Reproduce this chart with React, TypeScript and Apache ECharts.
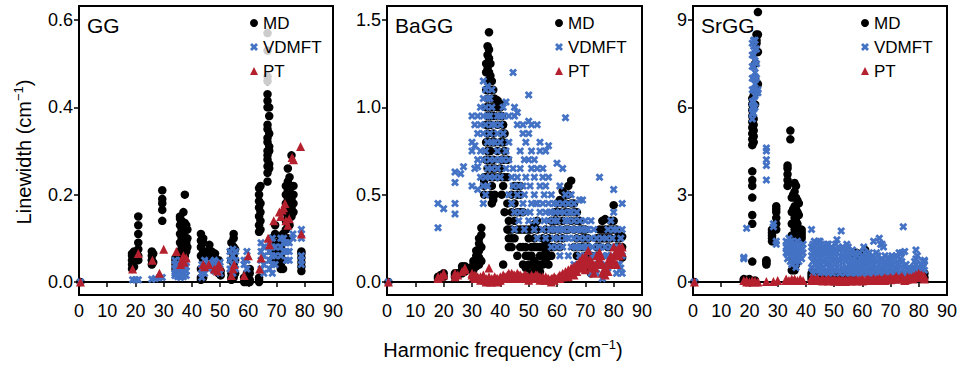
import React, { useEffect, useRef } from "react";
import * as echarts from "echarts";

type Cols = [number, number[]][];

// ---------- GG ----------
const ggMD: Cols = [
  [0.5, [0]],
  [18.8, [0.03, 0.04, 0.05, 0.06, 0.065]],
  [19.5, [0.035, 0.055, 0.07]],
  [21, [0.15, 0.13, 0.11, 0.09, 0.075, 0.06, 0.05]],
  [25.8, [0.04, 0.05, 0.06, 0.07]],
  [26.3, [0.045, 0.065]],
  [29.5, [0.21, 0.19, 0.18, 0.165, 0.14]],
  [34.2, [0.03, 0.04, 0.05, 0.055]],
  [35, [0.035, 0.06]],
  [35.8, [0.05, 0.07, 0.09, 0.11, 0.13, 0.145, 0.15]],
  [36.4, [0.04, 0.06, 0.08, 0.1, 0.12, 0.14]],
  [37, [0.05, 0.07, 0.09, 0.11, 0.13, 0.16]],
  [37.5, [0.06, 0.08, 0.1, 0.12, 0.135, 0.2]],
  [38, [0.07, 0.09, 0.1, 0.12, 0.13]],
  [38.4, [0.08, 0.1, 0.12]],
  [43.2, [0.005, 0.01, 0.03, 0.06, 0.08, 0.095, 0.11]],
  [44, [0.01, 0.03, 0.05, 0.07, 0.09, 0.1]],
  [45, [0.04, 0.06, 0.07]],
  [46.2, [0.05, 0.07, 0.085]],
  [47, [0.04, 0.06, 0.07]],
  [48.2, [0.03, 0.05, 0.065]],
  [49.5, [0.02, 0.03, 0.05]],
  [50.2, [0.015, 0.025]],
  [54, [0.005, 0.01, 0.02, 0.05, 0.07, 0.09]],
  [54.8, [0.01, 0.04, 0.06, 0.08, 0.1, 0.11]],
  [55.3, [0.02, 0.05, 0.075]],
  [58.5, [0.0, 0.01]],
  [59.5, [0.0, 0.01, 0.02]],
  [60.5, [0.0, 0.005, 0.02, 0.03]],
  [63.8, [0.0, 0.005, 0.01, 0.115, 0.13, 0.15, 0.17, 0.185, 0.2, 0.215]],
  [64.3, [0.12, 0.14, 0.16, 0.18, 0.22]],
  [66.8, [0.57, 0.53, 0.47, 0.46, 0.43, 0.415, 0.4, 0.36, 0.35, 0.33, 0.32, 0.3, 0.29, 0.28, 0.265, 0.25, 0.23]],
  [67.4, [0.4, 0.38, 0.34, 0.31, 0.3, 0.27, 0.26]],
  [68.2, [0.05, 0.07, 0.09, 0.1]],
  [69.5, [0.06, 0.08, 0.11, 0.13]],
  [70.5, [0.05, 0.07, 0.09]],
  [71.5, [0.03, 0.04, 0.05, 0.06, 0.08, 0.1]],
  [72.3, [0.03, 0.05, 0.07, 0.09, 0.11]],
  [73.3, [0.12, 0.14, 0.16, 0.18, 0.2, 0.22]],
  [74, [0.1, 0.13, 0.15, 0.17, 0.19, 0.21, 0.23, 0.26]],
  [74.6, [0.13, 0.15, 0.17, 0.19, 0.21, 0.24]],
  [75.3, [0.15, 0.17, 0.19, 0.2, 0.22, 0.29]],
  [76, [0.16, 0.18, 0.2, 0.22]],
  [78.8, [0.025, 0.035, 0.045, 0.055, 0.065, 0.07]],
];
const ggVD: Cols = [
  [0.5, [0]],
  [19, [0.005]], [20, [0.005]], [21, [0.005]],
  [25.8, [0.006]], [27, [0.008]], [28.5, [0.01]], [29.5, [0.01]],
  [34, [0.015, 0.02, 0.03, 0.04, 0.05]],
  [35, [0.012, 0.02, 0.03, 0.04]],
  [36, [0.01, 0.015, 0.02, 0.03, 0.04, 0.05]],
  [37, [0.012, 0.02, 0.03, 0.04, 0.045]],
  [38, [0.015, 0.025, 0.035, 0.045]],
  [43.5, [0.01, 0.02, 0.03, 0.04]],
  [44.5, [0.02, 0.035, 0.05]],
  [46, [0.03, 0.045]],
  [48, [0.025, 0.04, 0.05]],
  [50, [0.02, 0.03, 0.045]],
  [53.5, [0.03, 0.05, 0.07]],
  [54.5, [0.02, 0.04, 0.06, 0.075]],
  [55.5, [0.03, 0.05, 0.07]],
  [58.5, [0.04, 0.05]],
  [59.5, [0.03, 0.05, 0.07]],
  [64.5, [0.03, 0.05, 0.07, 0.09]],
  [65.5, [0.02, 0.04, 0.06, 0.08]],
  [67.5, [0.03, 0.05, 0.07, 0.09]],
  [68.5, [0.02, 0.04, 0.06, 0.08, 0.1]],
  [69.5, [0.04, 0.06, 0.08]],
  [71.5, [0.06, 0.08, 0.1]],
  [72.5, [0.07, 0.09, 0.1]],
  [73.5, [0.05, 0.07, 0.09]],
  [74.5, [0.05, 0.07, 0.09]],
  [75.8, [0.1, 0.11]],
  [78.8, [0.04, 0.05, 0.06, 0.1, 0.11, 0.12]],
];
const ggPT: Cols = [
  [0.5, [0]], [19, [0.03]], [21, [0.065]], [26, [0.05]], [28.5, [0.02]], [30, [0.075]],
  [34.5, [0.07]], [36, [0.04]], [36.5, [0.05]], [37, [0.06]], [37.3, [0.045]], [38, [0.055]],
  [44, [0.04]], [44.5, [0.035]], [46, [0.04]], [48, [0.03]], [49, [0.025]], [49.5, [0.04]], [50, [0.035]],
  [54, [0.015]], [54.5, [0.03]], [55, [0.04]], [58.5, [0.015]], [60, [0.06]], [64, [0.03]], [64.5, [0.055]],
  [67, [0.1]], [67.5, [0.085]], [69, [0.14]], [71, [0.16]], [71.5, [0.15]], [72, [0.165]], [72.5, [0.17]],
  [73, [0.18]], [73.3, [0.14]], [74, [0.13]], [74.5, [0.145]], [75.5, [0.285]], [76, [0.28]],
  [78.5, [0.31]], [78.8, [0.11]],
];

// ---------- BaGG ----------
const baMD: Cols = [
  [0.5, [0]],
  [18, [0.02, 0.03]], [19, [0.03, 0.04]], [20, [0.03, 0.05]],
  [24, [0.03, 0.04, 0.05]], [25, [0.04, 0.05]],
  [26.5, [0.05, 0.07, 0.09]], [27.5, [0.06, 0.08, 0.09]], [28.5, [0.07, 0.08]],
  [30.5, [0.07, 0.1, 0.12]], [31.5, [0.09, 0.12, 0.15, 0.18]], [32.5, [0.1, 0.14, 0.18, 0.22, 0.25]],
  [33.3, [0.12, 0.2, 0.27, 0.31]],
  [34.3, [0.5, 0.55, 0.58, 0.6]],
  [35, [0.6, 0.7, 0.8, 0.9, 1.0, 1.1, 1.2, 1.25]],
  [35.5, [0.65, 0.75, 0.85, 0.95, 1.05, 1.15, 1.22, 1.3, 1.35]],
  [36, [0.7, 0.8, 0.9, 1.0, 1.1, 1.2, 1.28, 1.33, 1.43]],
  [36.5, [0.5, 0.6, 0.75, 0.9, 1.0, 1.1, 1.18, 1.25]],
  [37, [0.45, 0.55, 0.65, 0.8, 0.95, 1.05, 1.15]],
  [37.5, [0.47, 0.6, 0.7, 0.85, 1.0, 1.1]],
  [38, [0.5, 0.65, 0.8, 0.95, 1.05]],
  [39, [0.6, 0.75, 0.9, 1.0, 1.04]],
  [40, [0.65, 0.8, 0.95, 1.0, 1.02]],
  [40.5, [0.5, 0.6, 0.7, 0.85, 0.95]],
  [41, [0.1, 0.55, 0.7, 0.8, 0.9]],
  [41.5, [0.4, 0.6, 0.75, 0.85]],
  [42.5, [0.3, 0.45, 0.6, 0.7]],
  [43, [0.2, 0.25, 0.3, 0.35]],
  [44, [0.2, 0.25, 0.3, 0.4, 0.5]],
  [45, [0.25, 0.35, 0.45, 0.55]],
  [46, [0.15, 0.3, 0.4, 0.5, 0.55]],
  [47, [0.2, 0.3, 0.4, 0.5, 0.55]],
  [48, [0.1, 0.2, 0.3, 0.4]],
  [49, [0.08, 0.15, 0.2, 0.3]],
  [50, [0.02, 0.1, 0.15, 0.25, 0.3]],
  [51, [0.05, 0.1, 0.15, 0.2, 0.3]],
  [52, [0.08, 0.12, 0.2, 0.25, 0.33]],
  [53, [0.05, 0.1, 0.2, 0.3, 0.35]],
  [54, [0.06, 0.1, 0.15, 0.2]],
  [55, [0.1, 0.15, 0.2, 0.25]],
  [56, [0.12, 0.18, 0.22, 0.3]],
  [57, [0.1, 0.15, 0.2, 0.25]],
  [58, [0.15, 0.2, 0.3, 0.35]],
  [59, [0.2, 0.3, 0.35, 0.4]],
  [60, [0.25, 0.35, 0.4, 0.45]],
  [61, [0.2, 0.3, 0.4, 0.47]],
  [62, [0.25, 0.35, 0.45, 0.52]],
  [63, [0.3, 0.4, 0.45, 0.5]],
  [64, [0.3, 0.4, 0.5, 0.55]],
  [65, [0.35, 0.45, 0.58]],
  [66, [0.2, 0.3, 0.4, 0.45]],
  [67, [0.15, 0.25, 0.35, 0.4]],
  [68, [0.1, 0.2, 0.3, 0.35]],
  [69, [0.1, 0.2, 0.25, 0.3]],
  [70, [0.08, 0.15, 0.25, 0.3]],
  [71, [0.1, 0.2, 0.25]],
  [72, [0.05, 0.1, 0.15]],
  [74, [0.15, 0.2, 0.25]],
  [75, [0.2, 0.25, 0.3]],
  [76, [0.25, 0.3, 0.35]],
  [77, [0.25, 0.3, 0.36]],
  [78, [0.2, 0.25, 0.3]],
  [79, [0.25, 0.3, 0.35]],
  [80, [0.3, 0.35, 0.44]],
  [81, [0.2, 0.25, 0.3]],
  [82, [0.2, 0.25, 0.27]],
  [83, [0.14, 0.2, 0.26]],
];
const baVD: Cols = [
  [0.5, [0]],
  [18, [0.31, 0.45]], [20, [0.42]], [24, [0.39, 0.45, 0.57, 0.63]], [26, [0.62]], [27, [0.66]],
  [30, [0.55, 0.75, 0.8, 0.95]], [31, [0.65, 0.78, 0.9]], [32, [0.53, 0.66, 0.7, 0.85, 0.95]],
  [33, [0.6, 0.75, 0.9, 1.0]],
  [34, [0.45, 0.55, 0.7, 0.85, 0.95, 1.05, 1.15]], [34.8, [0.5, 0.6, 0.75, 0.9, 1.0, 1.1]],
  [35.5, [0.55, 0.65, 0.8, 0.95, 1.05, 1.12]], [36.3, [0.6, 0.7, 0.85, 0.95, 1.05]],
  [37, [0.65, 0.8, 0.9, 1.0, 1.1]], [38, [0.6, 0.7, 0.8, 0.9]], [39, [0.65, 0.75, 0.85, 0.95]],
  [40, [0.6, 0.7, 0.8, 0.9, 0.95]], [41, [0.7, 0.85, 0.95, 1.0]], [42, [1.03, 0.75, 0.65]],
  [43, [0.5, 0.7, 0.8, 0.95]], [44.5, [1.2, 0.55, 0.65]], [45, [0.95, 1.0, 0.4, 0.3]],
  [46, [0.9, 0.97, 0.6, 0.5]], [47, [0.75, 0.65, 0.4]], [48, [0.85, 0.9, 0.55, 0.45]],
  [49, [0.8, 0.6, 0.4]], [50, [1.07, 0.92, 0.85, 0.7, 0.35]], [51, [0.9, 0.75, 0.65, 0.45]],
  [52, [0.7, 0.6, 0.5, 0.3]], [53, [0.9, 0.65, 0.45, 0.25]], [54, [0.8, 0.75, 0.55, 0.4]],
  [55, [0.65, 0.6, 0.45, 0.3]], [56, [0.75, 0.55, 0.4, 0.25]], [57, [0.78, 0.6, 0.45, 0.35]],
  [58, [0.5, 0.4, 0.3, 0.2]], [59, [0.45, 0.35, 0.25]], [60, [0.68, 0.45, 0.35, 0.2]],
  [61, [0.55, 0.4, 0.3, 0.15]], [62, [0.65, 0.45, 0.3, 0.2]], [63, [0.94, 0.5, 0.35, 0.25]],
  [64, [0.45, 0.35, 0.25, 0.15]], [65, [0.5, 0.4, 0.3, 0.2]], [66, [0.45, 0.35, 0.25, 0.1]],
  [67, [0.4, 0.3, 0.2]], [68, [0.47, 0.35, 0.25, 0.15]], [69, [0.47, 0.3, 0.2, 0.1]],
  [70, [0.35, 0.25, 0.15]], [71, [0.3, 0.2, 0.1]], [72, [0.35, 0.25, 0.05]], [73, [0.3, 0.15, 0.1]],
  [74, [0.25, 0.15, 0.05]], [75, [0.6, 0.2, 0.1]], [76, [0.02, 0.15, 0.25]], [77, [0.2, 0.1]],
  [78, [0.3, 0.15, 0.08]], [79, [0.35, 0.2, 0.1]], [80, [0.53, 0.4, 0.3]], [81, [0.3, 0.15, 0.05]],
  [82, [0.2, 0.1]], [83, [0.45, 0.3, 0.15, 0.05]],
  [44, [0.45, 0.6]], [46.5, [0.35, 0.55]], [48.5, [0.3, 0.5, 0.7]], [50.5, [0.4, 0.55]],
  [52.5, [0.35, 0.45]], [55.5, [0.35, 0.5]], [57.5, [0.3, 0.4]], [59.5, [0.3, 0.4]],
  [60.5, [0.25, 0.3]], [62.5, [0.3, 0.4]], [64.5, [0.3, 0.4]], [66.5, [0.2, 0.3]],
  [68.5, [0.2, 0.3]], [70.5, [0.2, 0.3]], [72.5, [0.15, 0.2]], [74.5, [0.1, 0.2]],
  [77.5, [0.15, 0.25]], [79.5, [0.15, 0.25]], [81.5, [0.1, 0.2]], [82.5, [0.08, 0.25]],
];
const baPT: Cols = [
  [0.5, [0]],
  [18, [0.02, 0.03]], [19, [0.03]], [20, [0.04, 0.05]], [24, [0.03, 0.05]], [25, [0.04]],
  [26.5, [0.06]], [27.5, [0.07, 0.08]], [30, [0.04, 0.05]], [31, [0.02, 0.04]], [32, [0.03]],
  [33, [0.01, 0.03]], [34, [0.02, 0.04]], [35, [0.0, 0.02]], [36, [0.08, 0.01, 0.03]], [37, [0.0, 0.02]],
  [38, [0.01, 0.03]], [39, [0.0, 0.02]], [40, [0.01, 0.03]], [41, [0.02, 0.04]], [42, [0.03]],
  [43, [0.02, 0.05]], [44, [0.03, 0.05]], [45, [0.02, 0.04]], [46, [0.03, 0.05]], [47, [0.02, 0.04]],
  [48, [0.03]], [49, [0.02, 0.04]], [50, [0.01, 0.03]], [51, [0.02, 0.04]], [52, [0.03]],
  [53, [0.02, 0.04]], [54, [0.01, 0.03]], [55, [0.02, 0.03]], [56, [0.01, 0.03]], [57, [0.02]],
  [58, [0.0, 0.02]], [59, [0.01, 0.03]], [60, [0.02]], [61, [0.02, 0.04]], [62, [0.03, 0.05]],
  [63, [0.04, 0.06]], [64, [0.03, 0.07]], [65, [0.05, 0.08]], [66, [0.04, 0.09]], [67, [0.06, 0.1]],
  [68, [0.08, 0.12]], [69, [0.09, 0.14]], [70, [0.07, 0.12, 0.15]], [71, [0.1, 0.18]], [72, [0.08, 0.12]],
  [73, [0.05, 0.1]], [74, [0.1, 0.15]], [75, [0.13, 0.17]], [76, [0.05, 0.1]], [77, [0.04, 0.08]],
  [78, [0.06, 0.12]], [79, [0.1, 0.15]], [80, [0.12, 0.2]], [81, [0.1, 0.18]], [82, [0.15, 0.2]],
  [83, [0.17, 0.2]],
  [30.5, [0.03]], [31.5, [0.03]], [32.5, [0.02]], [33.5, [0.02]], [34.5, [0.01]], [35.5, [0.01]],
  [36.5, [0.0]], [37.5, [0.01]], [38.5, [0.02]], [39.5, [0.01]], [40.5, [0.02]], [41.5, [0.03]],
  [42.5, [0.04]], [43.5, [0.03]], [44.5, [0.04]], [45.5, [0.03]], [46.5, [0.04]], [47.5, [0.03]],
  [48.5, [0.04]], [49.5, [0.03]], [50.5, [0.02]], [51.5, [0.03]], [52.5, [0.04]], [53.5, [0.03]],
  [54.5, [0.02]], [55.5, [0.01]], [56.5, [0.02]], [57.5, [0.01]], [58.5, [0.02]], [59.5, [0.02]],
  [60.5, [0.03]], [61.5, [0.03]], [62.5, [0.04]], [63.5, [0.05]], [64.5, [0.05]], [65.5, [0.06]],
  [66.5, [0.07]], [67.5, [0.08]], [68.5, [0.1]], [69.5, [0.11]], [70.5, [0.1]], [71.5, [0.13]],
  [72.5, [0.1]], [73.5, [0.08]], [74.5, [0.12]], [75.5, [0.15]], [76.5, [0.07]], [77.5, [0.06]],
  [78.5, [0.1]], [79.5, [0.13]], [80.5, [0.16]], [81.5, [0.15]], [82.5, [0.18]],
];

// ---------- SrGG ----------
const srMD: Cols = [
  [0.5, [0]],
  [18, [0.05, 0.1]], [19, [0.08]], [20, [0.05, 0.1]],
  [21, [0.7, 2.0, 2.3, 2.9, 3.3, 3.5, 3.8, 4.7, 4.9, 5.1, 5.3, 5.5, 5.7, 5.9, 6.1, 6.3]],
  [21.5, [4.8, 5.0, 5.2, 5.4, 5.6, 6.0, 6.4]],
  [22, [0.05, 6.1, 6.6, 7.0, 7.5]],
  [22.5, [7.9, 8.3, 8.5, 8.2]],
  [23, [9.27, 8.5, 7.9, 6.8]],
  [26, [0.6, 0.65, 0.7, 0.75]],
  [28, [1.4, 1.5, 1.6, 1.7, 1.8]],
  [29.5, [1.8, 2.0, 2.2, 2.4, 2.5, 2.6]],
  [33.5, [3.3, 3.5, 3.7, 3.9, 4.0]],
  [34.5, [4.9, 5.2]],
  [35, [0.4, 0.8, 1.2, 1.6, 2.0, 2.4, 2.9]],
  [35.5, [0.5, 1.0, 1.5, 2.0, 2.5, 3.0]],
  [36, [0.4, 0.9, 1.3, 1.8, 2.2, 2.6, 3.1, 3.4]],
  [36.5, [0.6, 1.1, 1.6, 2.1, 2.5, 2.9, 3.3]],
  [37, [1.0, 1.5, 2.0, 2.4, 2.8]],
  [37.5, [1.3, 1.8, 2.3, 2.7]],
  [38.5, [1.5, 1.6, 1.7, 1.8]],
  [42, [0.1, 0.2, 0.3]], [44, [0.1, 0.2, 0.3]], [46, [0.15, 0.25]], [48, [0.1, 0.2, 0.3]],
  [50, [0.15, 0.25]], [52, [0.1, 0.2, 0.3]], [54, [0.15, 0.25]], [56, [0.1, 0.3]],
  [57, [0.3, 0.5, 0.7, 0.9]], [58, [0.4, 0.6, 0.8, 1.0]], [59, [0.3, 0.5, 0.7, 0.9]],
  [60, [0.4, 0.7, 1.0]], [61, [0.5, 0.8, 1.1]], [62, [0.3, 0.6, 0.9]], [64, [0.1, 0.2, 0.3]],
  [66, [0.15, 0.25]], [68, [0.1, 0.2, 0.3]], [70, [0.15, 0.25]], [72, [0.1, 0.2]],
  [74, [0.15, 0.25]], [76, [0.1, 0.2]], [78, [0.15, 0.25]], [80, [0.2]], [82, [0.3, 0.15]],
  [43, [0.15, 0.25]], [45, [0.1, 0.2]], [47, [0.15, 0.3]], [49, [0.1, 0.2]], [51, [0.15, 0.25]],
  [53, [0.1, 0.2]], [55, [0.15, 0.3]], [63, [0.2, 0.4, 0.6]], [65, [0.1, 0.2]], [67, [0.15, 0.25]],
  [69, [0.1, 0.2]], [71, [0.15, 0.25]], [73, [0.1, 0.2]], [75, [0.15]], [77, [0.1, 0.2]],
  [79, [0.15, 0.2]], [81, [0.2, 0.25]],
];
const srVD: Cols = [
  [0.5, [0]],
  [18, [0.8, 0.85]], [19, [1.85]],
  [21, [5.6, 5.8, 6.0, 6.2, 6.6, 7.0, 7.4, 7.8, 8.2]],
  [21.5, [5.8, 6.2, 6.6, 7.0, 7.4, 7.8, 8.1, 8.3]],
  [22, [6.0, 6.4, 6.8, 7.2, 7.6, 8.0, 8.3]],
  [22.5, [6.5, 7.0, 7.5, 8.0]],
  [23, [6.5, 6.6]],
  [26, [3.5, 4.0, 4.2, 4.5, 4.6]],
  [28.5, [2.0, 1.9]], [29.5, [1.3, 1.4]],
  [33, [1.0, 1.2, 1.4]], [34, [1.0, 1.3, 1.5]], [35, [0.6, 0.9, 1.2, 1.4]], [36, [0.7, 1.0, 1.3]],
  [37, [0.8, 1.1, 1.4]], [38, [0.9, 1.2]], [39, [1.0, 1.3]],
  [33.5, [0.8, 1.1, 1.3]], [34.5, [0.7, 1.1, 1.4]], [35.5, [0.8, 1.1, 1.3]], [36.5, [0.5, 0.9, 1.2]],
  [37.5, [0.7, 1.0, 1.3]], [38.5, [0.8, 1.1]],
  [42, [1.8, 0.5, 0.9, 1.2]], [43, [0.4, 0.8, 1.2, 1.4]], [44, [0.5, 0.9, 1.3]], [45, [0.3, 0.7, 1.1, 1.4]],
  [46, [0.5, 0.9, 1.2]], [47, [0.4, 0.8, 1.1]], [48, [0.3, 0.7, 1.0, 1.3]], [49, [0.5, 0.9, 1.2]],
  [50, [0.4, 0.8, 1.1]], [51, [0.5, 1.0, 1.45]], [52, [0.3, 0.7, 1.1]], [52.5, [1.75]],
  [53, [0.5, 0.9, 1.2]], [54, [0.3, 0.7, 1.0]], [55, [0.4, 0.8, 1.2]], [56, [0.3, 0.6, 1.0]],
  [57, [0.4, 0.7]], [58, [0.3, 0.6, 0.9]], [59, [0.3, 0.5, 1.0]], [60, [0.3, 0.6, 0.9]],
  [61, [0.4, 0.7, 1.0]], [62, [0.3, 0.6, 0.9]], [63, [0.2, 0.5, 0.8]], [64, [0.3, 0.6, 1.4]],
  [65, [0.4, 0.7, 1.0]], [66, [0.3, 0.6, 1.5]], [67, [0.4, 0.8, 1.3]], [68, [0.3, 0.6, 0.9]],
  [69, [0.3, 0.5, 0.8]], [70, [0.2, 0.5, 0.8]], [71, [0.3, 0.6]], [72, [0.2, 0.4, 0.9]],
  [73, [0.3, 0.6, 1.0]], [74, [0.3, 0.7, 1.0]], [74.5, [1.9]], [75, [0.2, 0.5, 1.05]],
  [76, [0.2, 0.4]], [78, [0.3, 0.5]], [79, [0.6, 0.8, 1.1]], [80, [0.3, 0.5]], [81, [0.3, 0.6]],
  [82, [0.7, 0.75, 0.4]],
  [42.5, [0.3, 0.7, 1.0, 1.3]], [43.5, [0.6, 1.0]], [44.5, [0.4, 0.8, 1.1, 1.4]], [45.5, [0.6, 1.0, 1.3]],
  [46.5, [0.3, 0.7, 1.1]], [47.5, [0.6, 1.0, 1.3]], [48.5, [0.5, 0.9]], [49.5, [0.3, 0.7, 1.1]],
  [50.5, [0.6, 1.0, 1.3]], [51.5, [0.4, 0.8, 1.2]], [53.5, [0.4, 0.8, 1.1]], [54.5, [0.5, 0.9, 1.3]],
  [55.5, [0.3, 0.6, 1.0]], [56.5, [0.5, 0.8, 1.1]], [57.5, [0.3, 0.6, 1.0]], [58.5, [0.4, 0.7]],
  [59.5, [0.3, 0.6, 0.8]], [60.5, [0.5, 0.8, 1.2]], [61.5, [0.3, 0.6, 0.9]], [62.5, [0.4, 0.7, 1.0]],
  [63.5, [0.3, 0.6, 0.9]], [64.5, [0.4, 0.8]], [65.5, [0.3, 0.5, 0.9]], [66.5, [0.4, 0.7, 1.3]],
  [67.5, [0.3, 0.6, 1.2]], [68.5, [0.4, 0.7]], [69.5, [0.2, 0.5, 0.8]], [70.5, [0.3, 0.6, 0.9]],
  [71.5, [0.2, 0.5, 0.8]], [72.5, [0.3, 0.6]], [73.5, [0.2, 0.5, 0.8]], [75.5, [0.3, 0.6]],
  [76.5, [0.2, 0.5]], [77.5, [0.3]], [78.5, [0.2, 0.4, 0.7]], [79.5, [0.3, 0.5, 0.9]], [80.5, [0.4]],
  [81.5, [0.5, 0.7]],
];
const srPT: Cols = [
  [0.5, [0]], [18, [0.05]], [19, [0.0, 0.05]], [20, [0.0]], [21, [0.02, 0.05]], [22, [0.0, 0.03]],
  [23, [0.0]], [26, [0.02]], [28.5, [0.02]], [30, [0.05]],
  [33, [0.05, 0.1]], [34, [0.05]], [35, [0.05, 0.1]], [36, [0.05, 0.1]], [37, [0.05]], [38, [0.05, 0.1]], [39, [0.05]],
  [42, [0.05, 0.15]], [43, [0.05, 0.1]], [44, [0.05, 0.12]], [45, [0.05]], [46, [0.03, 0.1]], [47, [0.05]],
  [48, [0.03, 0.1]], [49, [0.05]], [50, [0.03, 0.08]], [51, [0.05]], [52, [0.02, 0.08]], [53, [0.05]],
  [54, [0.02, 0.07]], [55, [0.05]], [56, [0.03, 0.08]], [57, [0.05]], [58, [0.03, 0.08]], [59, [0.05]],
  [60, [0.03, 0.1]], [61, [0.05]], [62, [0.05, 0.1]], [63, [0.05]], [64, [0.05, 0.12]], [65, [0.08]],
  [66, [0.05, 0.12]], [67, [0.08]], [68, [0.05, 0.15]], [69, [0.1]], [70, [0.08, 0.15]], [71, [0.1]],
  [72, [0.1, 0.2]], [73, [0.12]], [74, [0.1, 0.2]], [75, [0.05]], [76, [0.1, 0.18]], [77, [0.15]],
  [78, [0.1, 0.2]], [79, [0.15, 0.25]], [80, [0.2, 0.3]], [81, [0.15, 0.25]], [82, [0.1, 0.2]],
  [42.5, [0.08]], [43.5, [0.06]], [44.5, [0.08]], [45.5, [0.06]], [46.5, [0.05]], [47.5, [0.07]],
  [48.5, [0.05]], [49.5, [0.06]], [50.5, [0.04]], [51.5, [0.05]], [52.5, [0.04]], [53.5, [0.05]],
  [54.5, [0.04]], [55.5, [0.05]], [56.5, [0.04]], [57.5, [0.06]], [58.5, [0.05]], [59.5, [0.06]],
  [60.5, [0.05]], [61.5, [0.07]], [62.5, [0.06]], [63.5, [0.08]], [64.5, [0.07]], [65.5, [0.09]],
  [66.5, [0.08]], [67.5, [0.1]], [68.5, [0.09]], [69.5, [0.12]], [70.5, [0.1]], [71.5, [0.13]],
  [72.5, [0.12]], [73.5, [0.14]], [74.5, [0.12]], [75.5, [0.08]], [76.5, [0.13]], [77.5, [0.12]],
  [78.5, [0.15]], [79.5, [0.2]], [80.5, [0.22]], [81.5, [0.2]],
];

const panelNames = ["GG", "BaGG", "SrGG"];
const seriesNames = ["MD", "VDMFT", "PT"];
const xTicks = [0, 10, 20, 30, 40, 50, 60, 70, 80, 90];
const yTicks = [
  [0, 0.2, 0.4, 0.6],
  [0, 0.5, 1.0, 1.5],
  [0, 3, 6, 9],
];
const yDecimals = [1, 1, 0];
const yRanges = [
  [-0.0298, 0.632],
  [-0.0744, 1.58],
  [-0.447, 9.48],
];
const panelData = [
  [ggMD, ggVD, ggPT],
  [baMD, baVD, baPT],
  [srMD, srVD, srPT],
];

const FONT = "'Liberation Sans', Arial, sans-serif";
const BLUE = "#4472c4";
const RED = "#b5202e";
const XSYM = "path://M0,2.5L2.5,0L5,2.5L7.5,0L10,2.5L7.5,5L10,7.5L7.5,10L5,7.5L2.5,10L0,7.5L2.5,5Z";

function flatten(cols: Cols): number[][] {
  const out: number[][] = [];
  for (const [x, ys] of cols) for (const y of ys) out.push([x, y]);
  return out;
}

export default function App() {
  const ref = useRef<HTMLDivElement>(null);
  useEffect(() => {
    if (!ref.current) return;
    const chart = echarts.init(ref.current, null, { renderer: "svg" });
    const gridLefts = [79, 387, 693];
    const gridWidths = [254, 255, 254];
    const legendLefts = [244, 549, 855];
    const grids = gridLefts.map((l, i) => ({
      left: l,
      top: 6,
      width: gridWidths[i],
      height: 289,
      show: true,
      borderColor: "#000",
      borderWidth: 2,
      backgroundColor: "transparent",
    }));
    const xAxes = gridLefts.map((_, i) => ({
      type: "value",
      gridIndex: i,
      min: 0,
      max: 90,
      interval: 10,
      splitLine: { show: false },
      axisLine: { show: true, lineStyle: { color: "#000", width: 2 } },
      axisTick: { show: true, length: 5, lineStyle: { color: "#000", width: 1.5 }, customValues: xTicks },
      axisLabel: { color: "#000", fontSize: 18, fontFamily: FONT, margin: 7, customValues: xTicks },
    }));
    const yAxes = gridLefts.map((_, i) => ({
      type: "value",
      gridIndex: i,
      min: yRanges[i][0],
      max: yRanges[i][1],
      splitLine: { show: false },
      axisLine: { show: true, lineStyle: { color: "#000", width: 2 } },
      axisTick: { show: true, length: 5, lineStyle: { color: "#000", width: 1.5 }, customValues: yTicks[i] },
      axisLabel: {
        color: "#000",
        fontSize: 18,
        fontFamily: FONT,
        margin: 6,
        customValues: yTicks[i],
        formatter: (v: number) => v.toFixed(yDecimals[i]),
      },
    }));
    const series: any[] = [];
    panelData.forEach((sets, i) => {
      sets.forEach((cols, j) => {
        series.push({
          type: "scatter",
          name: seriesNames[j],
          xAxisIndex: i,
          yAxisIndex: i,
          data: flatten(cols),
          symbol: j === 0 ? "circle" : j === 1 ? XSYM : "triangle",
          symbolSize: j === 0 ? 8.5 : j === 1 ? 8 : 9,
          itemStyle: { color: j === 0 ? "#000" : j === 1 ? BLUE : RED, opacity: 1 },
          z: 2 + j,
        });
      });
    });
    const legends = legendLefts.map((l) => ({
      orient: "vertical",
      left: l,
      top: 9,
      data: seriesNames,
      itemWidth: 8,
      itemHeight: 8,
      itemGap: 4,
      padding: [4, 6, 4, 6],
      backgroundColor: "rgba(255,255,255,0.8)",
      selectedMode: false,
      z: 20,
      textStyle: { color: "#000", fontSize: 17, fontFamily: FONT, lineHeight: 20, padding: [0, 0, 0, 0] },
    }));
    const rich = {
      n: { fontSize: 20, fontFamily: FONT, fill: "#000", lineHeight: 24 },
      s: { fontSize: 13, fontFamily: FONT, fill: "#000", verticalAlign: "top", lineHeight: 24, padding: [0, 0, 8, 0] },
    };
    const graphics: any[] = [
      ...panelNames.map((n, i) => ({
        type: "text",
        left: gridLefts[i] + 8,
        top: 15,
        z: 30,
        style: { text: n, font: `21px ${FONT}`, fill: "#000" },
      })),
      {
        type: "text",
        x: 503,
        y: 350,
        style: {
          text: "{n|Harmonic frequency (cm}{s|−1}{n|)}",
          rich,
          align: "center",
          verticalAlign: "middle",
          fill: "#000",
        },
      },
      {
        type: "text",
        x: 24,
        y: 152,
        rotation: Math.PI / 2,
        style: {
          text: "{n|Linewidth (cm}{s|−1}{n|)}",
          rich,
          align: "center",
          verticalAlign: "middle",
          fill: "#000",
        },
      },
    ];
    chart.setOption({
      animation: false,
      backgroundColor: "#fff",
      grid: grids,
      xAxis: xAxes,
      yAxis: yAxes,
      legend: legends,
      series,
      graphic: graphics,
    });
    return () => chart.dispose();
  }, []);
  return <div ref={ref} style={{ position: "fixed", left: 0, top: 0, width: 962, height: 366 }} />;
}
